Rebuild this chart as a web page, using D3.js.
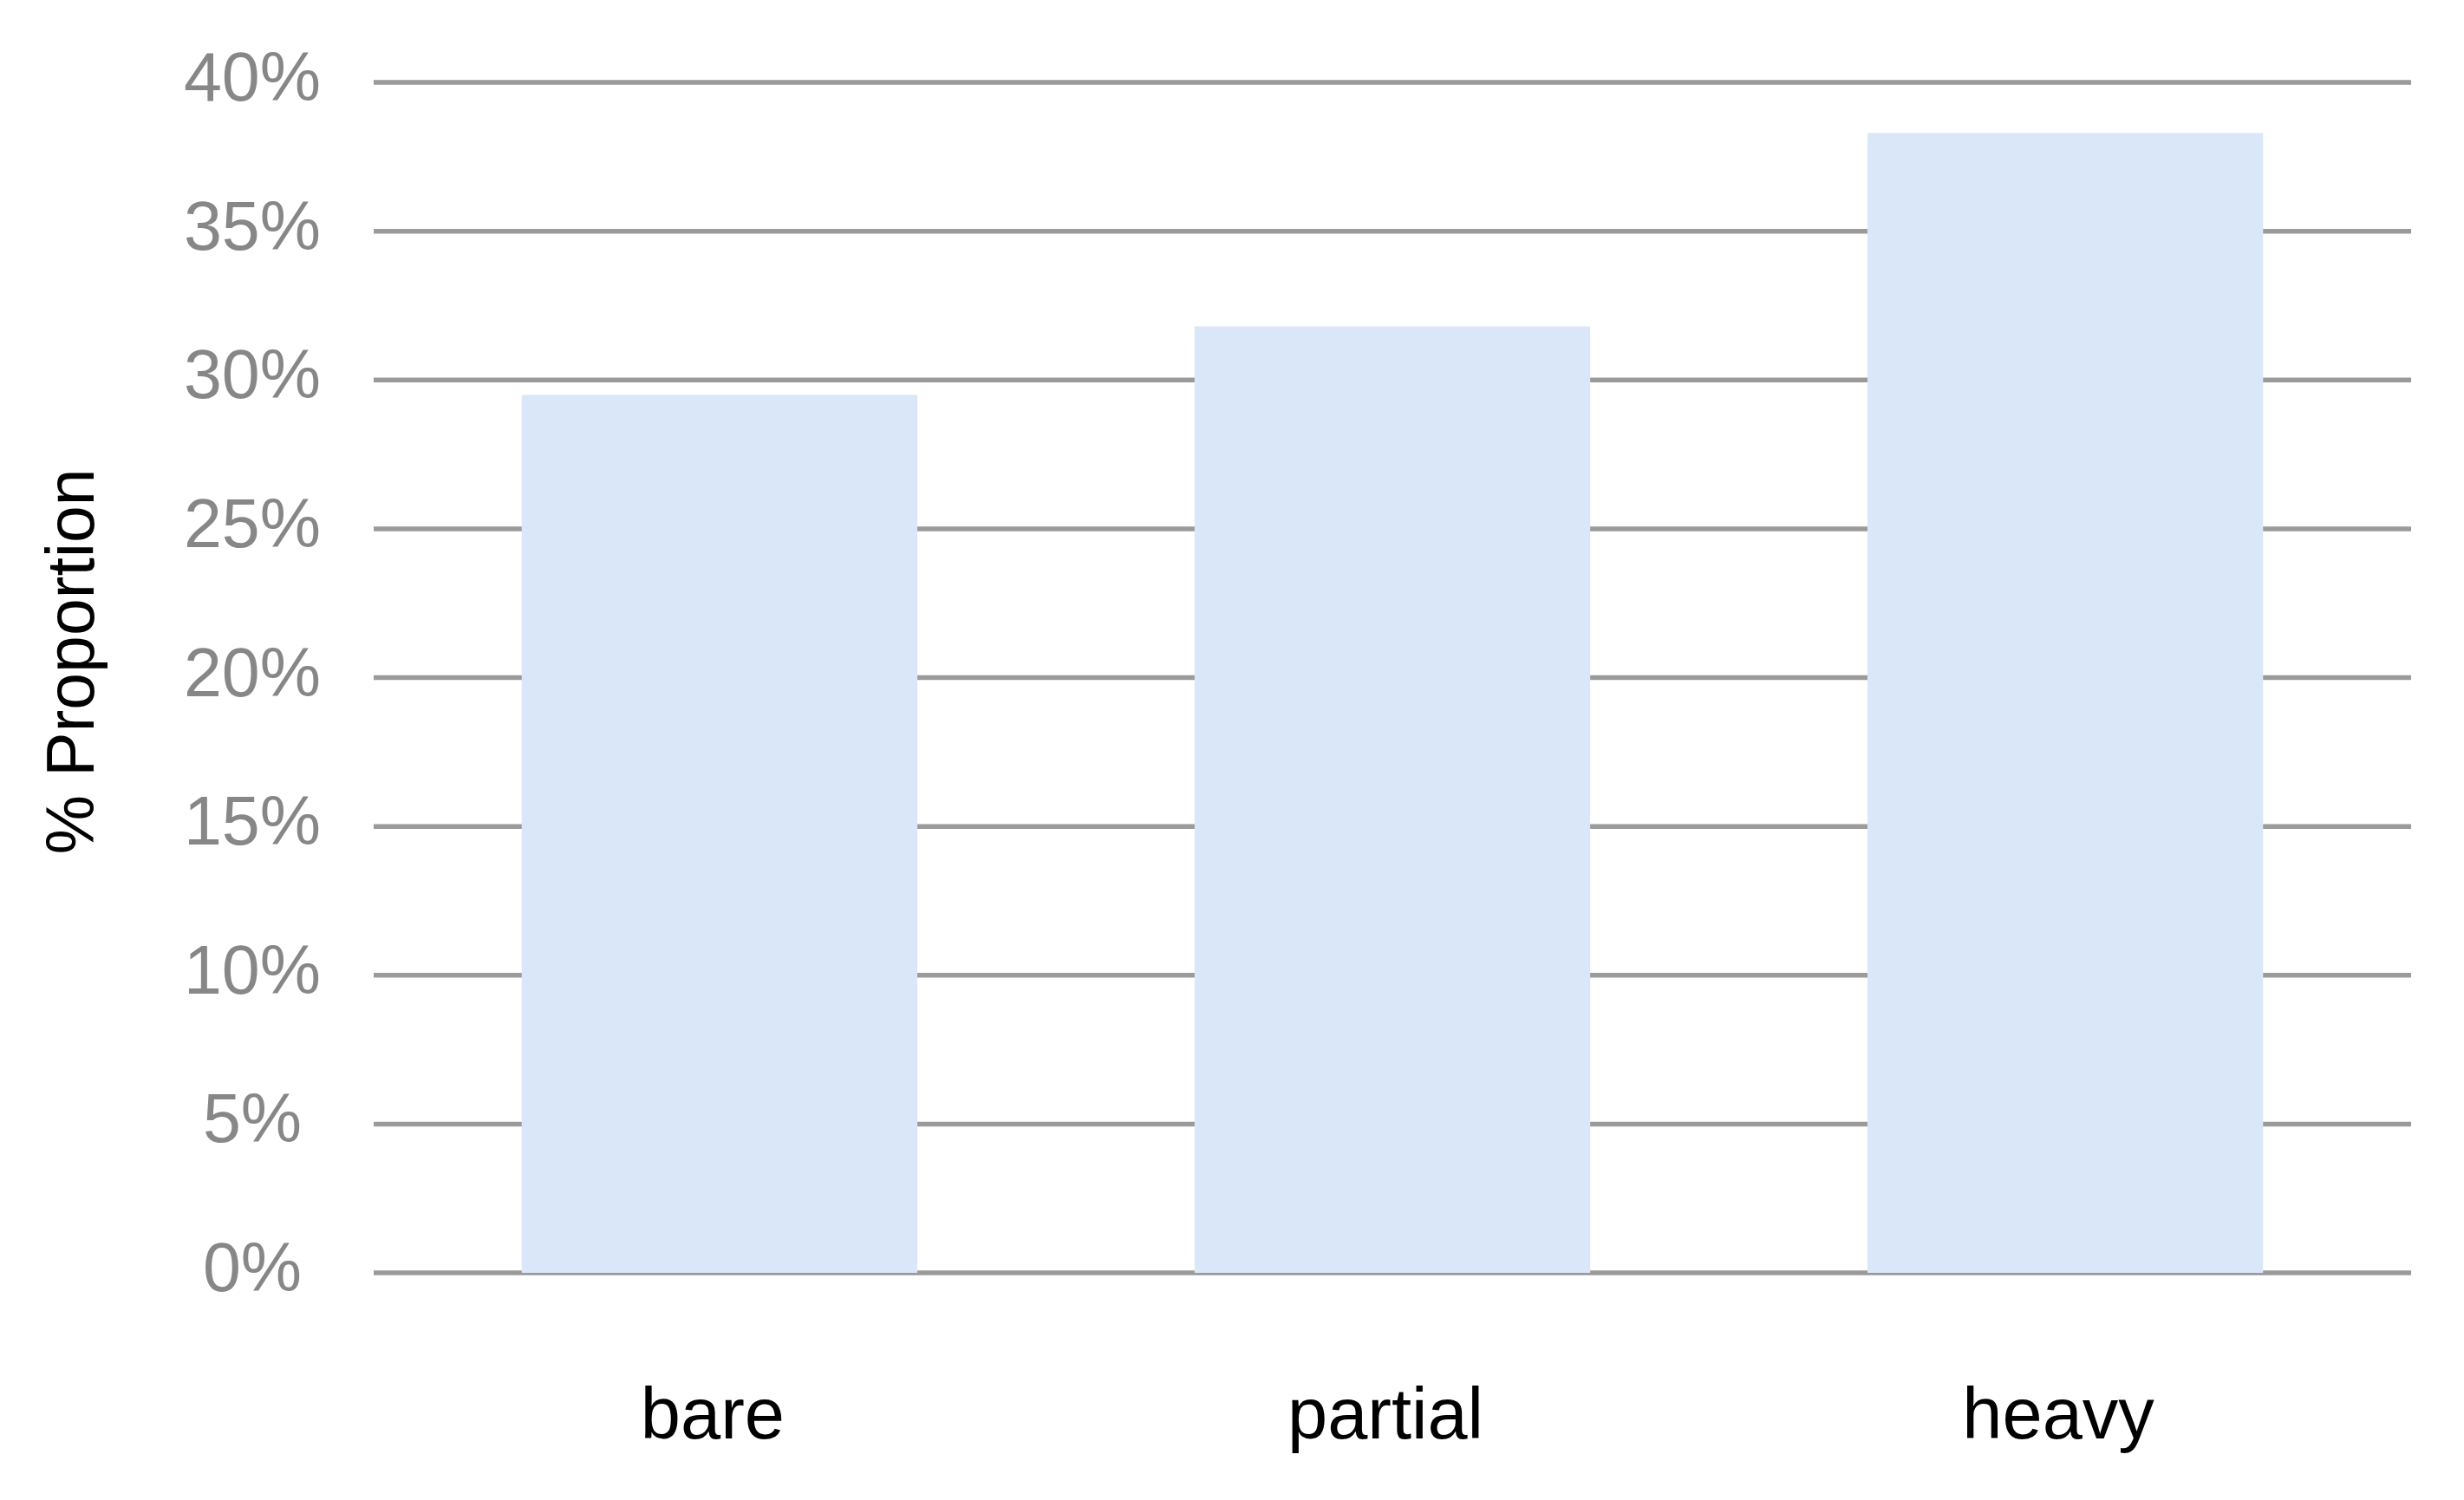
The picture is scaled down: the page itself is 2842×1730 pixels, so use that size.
<!DOCTYPE html>
<html>
<head>
<meta charset="utf-8">
<script src="https://d3js.org/d3.v7.min.js"></script>
<style>
  body { margin: 0; background: white; }
  text { font-family: "Liberation Sans", Arial, sans-serif; }
</style>
</head>
<body>
<svg width="2842" height="1730"></svg>
<script>
// data
const categories = ["bare", "partial", "heavy"];
const proportions = [29.5, 31.8, 38.3];
const yTicks = [0, 5, 10, 15, 20, 25, 30, 35, 40];

const svg = d3.select("svg");

const plotLeft = 431, plotRight = 2781, plotTop = 95, plotBottom = 1468;

var x = d3.scaleBand().domain(categories).range([plotLeft, plotRight])
  .paddingInner(0.412).paddingOuter(0.22);
var y = d3.scaleLinear().domain([0, 40]).range([plotBottom, plotTop]);

// gridlines
svg.append("g").selectAll("line")
  .data(yTicks)
  .enter()
  .append("line")
    .attr("x1", plotLeft)
    .attr("x2", plotRight)
    .attr("y1", d => y(d))
    .attr("y2", d => y(d))
    .attr("stroke", "#9a9a9a")
    .attr("stroke-width", 5.5);

// y tick labels
svg.append("g").selectAll("text")
  .data(yTicks)
  .enter()
  .append("text")
    .attr("x", 291)
    .attr("y", d => y(d) + 21)
    .attr("text-anchor", "middle")
    .attr("font-size", 79)
    .attr("fill", "#878787")
    .text(d => d + "%");

// bars
svg.append("g").selectAll("rect")
  .data(categories)
  .enter()
  .append("rect")
    .attr("x", d => x(d))
    .attr("width", x.bandwidth())
    .attr("y", (d, i) => y(proportions[i]))
    .attr("height", (d, i) => y(0) - y(proportions[i]))
    .attr("fill", "#dae7f9");

// category labels
svg.append("g").selectAll("text")
  .data(categories)
  .enter()
  .append("text")
    .attr("x", d => x(d) + x.bandwidth() / 2 - 8)
    .attr("y", 1659)
    .attr("text-anchor", "middle")
    .attr("font-size", 83)
    .attr("fill", "black")
    .text(d => d);

// y axis title
svg.append("text")
  .attr("transform", "translate(108,763) rotate(-90)")
  .attr("text-anchor", "middle")
  .attr("font-size", 77)
  .attr("fill", "black")
  .text("% Proportion");
</script>
</body>
</html>
